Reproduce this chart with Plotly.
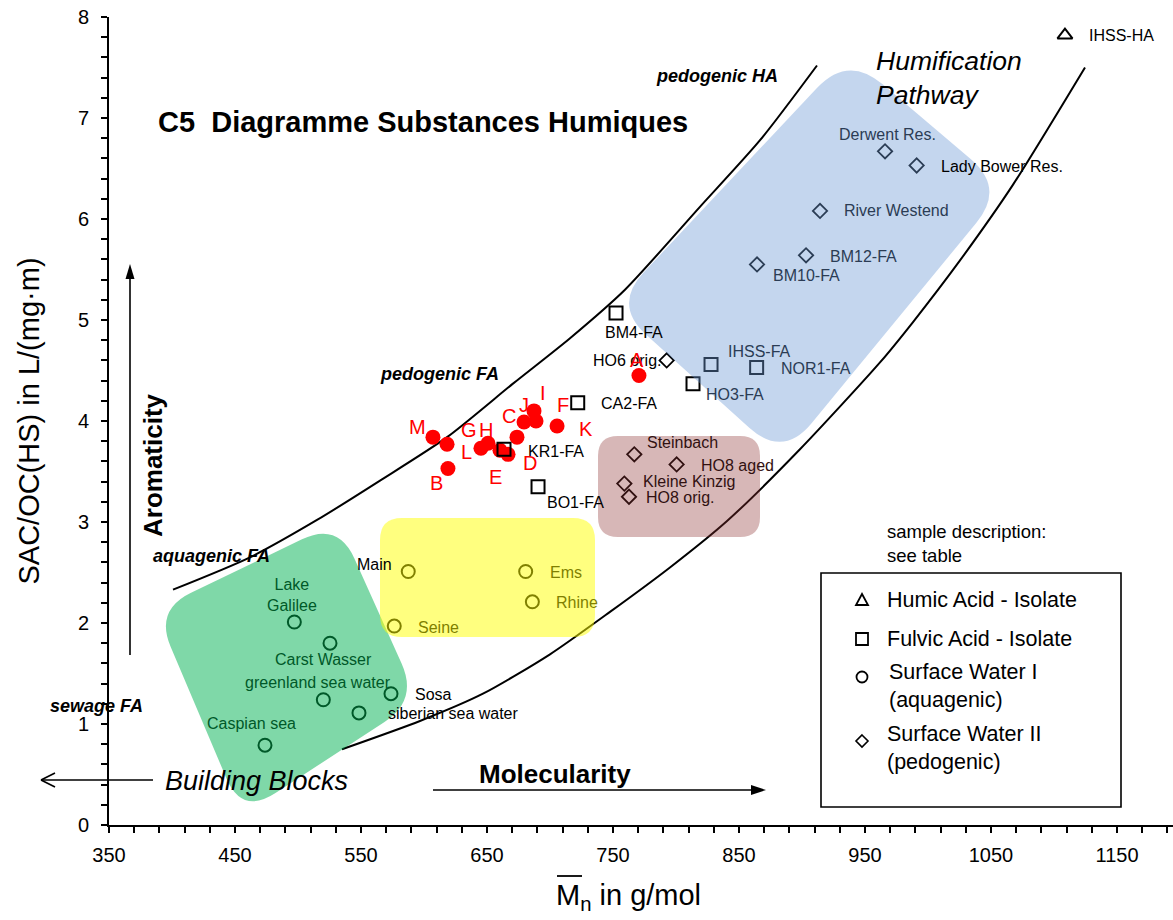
import math
import plotly.graph_objects as go

# ---------------- data ----------------
red_labels = ["A", "B", "C", "D", "E", "F", "G", "H", "I", "J", "K", "L", "M"]
red_x = [770.6, 619.0, 673.8, 666.7, 660.3, 688.9, 645.2, 650.8, 687.3, 679.4, 705.6, 618.3, 607.1]
red_y = [4.45, 3.53, 3.84, 3.67, 3.71, 4.00, 3.73, 3.78, 4.10, 3.99, 3.95, 3.77, 3.84]

ha_labels = ["IHSS-HA"]
ha_x = [1108.7]
ha_y = [7.82]

fa_labels = ["BM4-FA", "KR1-FA", "CA2-FA", "BO1-FA", "IHSS-FA", "NOR1-FA", "HO3-FA"]
fa_x = [752.4, 663.5, 722.0, 690.5, 827.8, 864.0, 813.5]
fa_y = [5.07, 3.72, 4.18, 3.35, 4.56, 4.53, 4.37]

sw1_labels = ["Lake\nGalilee", "Carst Wasser", "greenland sea water", "siberian sea water",
              "Sosa", "Caspian sea", "Main", "Ems", "Rhine", "Seine"]
sw1_x = [497.1, 525.4, 520.1, 548.4, 573.8, 473.8, 587.5, 680.7, 686.0, 576.4]
sw1_y = [2.01, 1.80, 1.24, 1.11, 1.30, 0.79, 2.51, 2.51, 2.21, 1.97]

sw2_labels = ["Derwent Res.", "Lady Bower Res.", "River Westend", "BM12-FA", "BM10-FA",
              "HO6 orig.", "Steinbach", "HO8 aged", "Kleine Kinzig", "HO8 orig."]
sw2_x = [965.9, 991.0, 914.3, 903.2, 864.3, 792.6, 766.9, 800.5, 759.0, 762.7]
sw2_y = [6.67, 6.53, 6.08, 5.64, 5.55, 4.60, 3.67, 3.57, 3.38, 3.25]

# guide curves (upper: pedogenic HA bound, lower: bound of the humification pathway)
upper_x = [400.8, 461.9, 515.1, 565.1, 618.3, 670.6, 715.9, 759.5, 819.0, 866.7, 911.9]
upper_y = [2.33, 2.65, 3.02, 3.41, 3.84, 4.37, 4.82, 5.30, 6.12, 6.78, 7.52]
lower_x = [534.9, 596.8, 646.8, 700.0, 747.6, 795.2, 840.5, 898.4, 961.9, 988.1, 1025.4, 1067.5, 1124.6]
lower_y = [0.75, 1.03, 1.30, 1.69, 2.11, 2.55, 3.01, 3.72, 4.58, 4.98, 5.59, 6.34, 7.50]

x_ticks = [350, 450, 550, 650, 750, 850, 950, 1050, 1150]
y_ticks = [0, 1, 2, 3, 4, 5, 6, 7, 8]

# ---------------- layout geometry ----------------
W, H = 1173, 920
ML, MT, MB, MR = 109, 17, 95, 0
PW, PH = W - ML - MR, H - MT - MB
FONT = "Liberation Sans, Arial, Helvetica, sans-serif"


def px(x):
    return (x - ML) / PW


def py(y):
    return (H - MB - y) / PH


def rounded_path(corners, r):
    """closed path through pixel corners with rounded corners, in paper coords"""
    n = len(corners)
    segs = []
    for i in range(n):
        cx, cy = corners[i]
        ax_, ay_ = corners[i - 1]
        bx_, by_ = corners[(i + 1) % n]
        da = math.hypot(ax_ - cx, ay_ - cy)
        db = math.hypot(bx_ - cx, by_ - cy)
        p1 = (cx + r * (ax_ - cx) / da, cy + r * (ay_ - cy) / da)
        p2 = (cx + r * (bx_ - cx) / db, cy + r * (by_ - cy) / db)
        segs.append((p1, (cx, cy), p2))
    d = "M %.5f,%.5f " % (px(segs[0][2][0]), py(segs[0][2][1]))
    for i in range(1, n + 1):
        p1, c, p2 = segs[i % n]
        d += "L %.5f,%.5f Q %.5f,%.5f %.5f,%.5f " % (px(p1[0]), py(p1[1]), px(c[0]), py(c[1]),
                                                    px(p2[0]), py(p2[1]))
    return d + "Z"


def poly_path(points):
    return "M " + " L ".join("%.5f,%.5f" % (px(a), py(b)) for a, b in points) + " Z"


fig = go.Figure()

# guide curves
for cx, cy in [(upper_x, upper_y), (lower_x, lower_y)]:
    fig.add_trace(go.Scatter(x=cx, y=cy, mode="lines",
                             line=dict(color="black", width=2, shape="spline", smoothing=0.7),
                             hoverinfo="skip", showlegend=False))

# markers
fig.add_trace(go.Scatter(x=red_x, y=red_y, mode="markers", name="red samples",
                         marker=dict(symbol="circle", size=15, color="#ff0000", line=dict(width=0)),
                         text=red_labels, showlegend=False))
fig.add_trace(go.Scatter(x=ha_x, y=ha_y, mode="markers", name="Humic Acid - Isolate",
                         marker=dict(symbol="triangle-up-open", size=13, color="black", line=dict(width=2)),
                         text=ha_labels, showlegend=False))
fig.add_trace(go.Scatter(x=fa_x, y=fa_y, mode="markers", name="Fulvic Acid - Isolate",
                         marker=dict(symbol="square-open", size=13, color="black", line=dict(width=2)),
                         text=fa_labels, showlegend=False))
fig.add_trace(go.Scatter(x=sw1_x, y=sw1_y, mode="markers", name="Surface Water I (aquagenic)",
                         marker=dict(symbol="circle-open", size=13, color="black", line=dict(width=2)),
                         text=sw1_labels, showlegend=False))
fig.add_trace(go.Scatter(x=sw2_x, y=sw2_y, mode="markers", name="Surface Water II (pedogenic)",
                         marker=dict(symbol="diamond-open", size=11, color="black", line=dict(width=1.8)),
                         text=sw2_labels, showlegend=False))

# ---------------- translucent regions drawn above the data ----------------
BLUE = (108, 152, 212, 0.40)
GREEN = (0, 178, 82, 0.50)
YELLOW = (255, 255, 0, 0.50)
BROWN = (140, 50, 50, 0.35)


def rgba(c):
    return "rgba(%d,%d,%d,%.2f)" % c


def tint(c):
    return "rgb(%d,%d,%d)" % (c[0] * c[3], c[1] * c[3], c[2] * c[3])


shapes = []
regions = [
    (BLUE, [(613, 305), (848, 55), (1005, 188), (783, 458)], 45),
    (GREEN, [(155, 610), (338, 522), (418, 700), (242, 815)], 40),
    (YELLOW, [(380, 518), (595, 518), (595, 637), (380, 637)], 22),
    (BROWN, [(598, 436), (760, 436), (760, 537), (598, 537)], 20),
]
for col, corners, r in regions:
    shapes.append(dict(type="path", xref="paper", yref="paper", path=rounded_path(corners, r),
                       fillcolor=rgba(col), line=dict(width=0), layer="above"))


def line(x0, y0, x1, y1, w=1.6):
    return dict(type="line", xref="paper", yref="paper", x0=px(x0), y0=py(y0), x1=px(x1), y1=py(y1),
                line=dict(color="black", width=w), layer="above")


# arrows
shapes.append(line(130, 655, 130, 276))
shapes.append(dict(type="path", xref="paper", yref="paper",
                   path=poly_path([(130, 264), (125.5, 279), (134.5, 279)]),
                   fillcolor="black", line=dict(width=0), layer="above"))
shapes.append(line(433, 790, 752, 790))
shapes.append(dict(type="path", xref="paper", yref="paper",
                   path=poly_path([(766, 790), (751, 785), (751, 795)]),
                   fillcolor="black", line=dict(width=0), layer="above"))
shapes.append(line(153, 780, 41, 780))
shapes.append(line(41, 780, 55, 773))
shapes.append(line(41, 780, 55, 787))

# legend box and symbols
NOFILL = "rgba(0,0,0,0)"
shapes.append(dict(type="rect", xref="paper", yref="paper", x0=px(821), y0=py(807), x1=px(1121), y1=py(573),
                   line=dict(color="black", width=1.6), fillcolor=NOFILL, layer="above"))
shapes.append(dict(type="path", xref="paper", yref="paper",
                   path=poly_path([(862, 594), (856, 605), (868, 605)]),
                   line=dict(color="black", width=1.8), fillcolor=NOFILL, layer="above"))
shapes.append(dict(type="rect", xref="paper", yref="paper", x0=px(856), y0=py(645), x1=px(868), y1=py(633),
                   line=dict(color="black", width=1.8), fillcolor=NOFILL, layer="above"))
shapes.append(dict(type="circle", xref="paper", yref="paper", x0=px(856.5), y0=py(682.5), x1=px(867.5),
                   y1=py(671.5), line=dict(color="black", width=1.8), fillcolor=NOFILL, layer="above"))
shapes.append(dict(type="path", xref="paper", yref="paper",
                   path=poly_path([(862, 735), (868, 741), (862, 747), (856, 741)]),
                   line=dict(color="black", width=1.6), fillcolor=NOFILL, layer="above"))

# ---------------- point labels ----------------
annotations = []
lbl_style = {
    # label: (dx, dy, anchor, colour)   dx/dy in pixels from the marker, dy downwards
    "IHSS-HA": (23, 0, "left", "black"),
    "BM4-FA": (-12, 20, "left", "black"),
    "KR1-FA": (23, 2, "left", "black"),
    "CA2-FA": (22, 1, "left", "black"),
    "BO1-FA": (8, 16, "left", "black"),
    "IHSS-FA": (16, -13, "left", tint(BLUE)),
    "NOR1-FA": (23, 1, "left", tint(BLUE)),
    "HO3-FA": (12, 11, "left", tint(BLUE)),
    "Lake\nGalilee": (-2, -27, "center", tint(GREEN)),
    "Carst Wasser": (-7, 16, "center", tint(GREEN)),
    "greenland sea water": (-5, -17, "center", tint(GREEN)),
    "siberian sea water": (28, 1, "left", "black"),
    "Sosa": (23, 1, "left", "black"),
    "Caspian sea": (-13, -22, "center", tint(GREEN)),
    "Main": (-15, -7, "right", "black"),
    "Ems": (23, 1, "left", tint(YELLOW)),
    "Rhine": (23, 1, "left", tint(YELLOW)),
    "Seine": (23, 1, "left", tint(YELLOW)),
    "Derwent Res.": (2, -17, "center", tint(BLUE)),
    "Lady Bower Res.": (23, 1, "left", "black"),
    "River Westend": (23, 0, "left", tint(BLUE)),
    "BM12-FA": (23, 1, "left", tint(BLUE)),
    "BM10-FA": (15, 11, "left", tint(BLUE)),
    "HO6 orig.": (-5, 0, "right", "black"),
    "Steinbach": (12, -12, "left", tint(BROWN)),
    "HO8 aged": (23, 1, "left", tint(BROWN)),
    "Kleine Kinzig": (18, -2, "left", tint(BROWN)),
    "HO8 orig.": (16, 1, "left", tint(BROWN)),
}
red_offsets = {"A": (-2, -16), "B": (-11, 15), "C": (-8, -21), "D": (22, 9), "E": (-4, 27), "F": (27, -16),
               "G": (-12, -18), "H": (-2, -13), "I": (9, -18), "J": (0, -17), "K": (29, 3), "L": (19, 8),
               "M": (-15, -10)}

for labs, xs, ys in [(ha_labels, ha_x, ha_y), (fa_labels, fa_x, fa_y), (sw1_labels, sw1_x, sw1_y),
                     (sw2_labels, sw2_x, sw2_y)]:
    for lab, xv, yv in zip(labs, xs, ys):
        dx, dy, anc, col = lbl_style[lab]
        annotations.append(dict(x=xv, y=yv, xref="x", yref="y", text=lab.replace("\n", "<br>"),
                                showarrow=False, xanchor=anc, yanchor="middle", xshift=dx, yshift=-dy,
                                borderpad=0, font=dict(family=FONT, size=16, color=col)))
for lab, xv, yv in zip(red_labels, red_x, red_y):
    dx, dy = red_offsets[lab]
    annotations.append(dict(x=xv, y=yv, xref="x", yref="y", text=lab, showarrow=False,
                            xanchor="center", yanchor="middle", xshift=dx, yshift=-dy, borderpad=0,
                            font=dict(family=FONT, size=20, color="#ff0000")))


# ---------------- free text ----------------
def text(x, y, s, size, anchor="center", rot=0, color="black"):
    annotations.append(dict(x=px(x), y=py(y), xref="paper", yref="paper", text=s, showarrow=False,
                            xanchor=anchor, yanchor="middle", textangle=rot, borderpad=0, align="left",
                            font=dict(family=FONT, size=size, color=color)))


text(157, 122, "<b>C5\u00a0\u00a0Diagramme Substances Humiques</b>", 29, "left")
text(717, 76, "<b><i>pedogenic HA</i></b>", 18)
text(439, 374, "<b><i>pedogenic FA</i></b>", 18)
text(211, 556, "<b><i>aquagenic FA</i></b>", 18)
text(96, 706, "<b><i>sewage FA</i></b>", 18)
text(875, 78, "<i>Humification<br>Pathway</i>", 26.5, "left")
text(153, 465, "<b>Aromaticity</b>", 26, rot=-90)
text(164, 781, "<i>Building Blocks</i>", 27, "left")
text(478, 774, "<b>Molecularity</b>", 26, "left")
text(886, 543, "sample description:<br>see table", 18.5, "left")
text(886, 600, "Humic Acid - Isolate", 21.5, "left")
text(886, 639, "Fulvic Acid - Isolate", 21.5, "left")
text(888, 686, "Surface Water I<br>(aquagenic)", 21.5, "left")
text(886, 748, "Surface Water II<br>(pedogenic)", 21.5, "left")
# x axis title with overlined M
text(555, 897, "M<sub>n</sub> in g/mol", 29, "left")
shapes.append(line(557, 876, 582, 876, 1.8))

fig.update_layout(
    width=W, height=H, autosize=False,
    margin=dict(l=ML, r=MR, t=MT, b=MB, pad=0),
    paper_bgcolor="white", plot_bgcolor="white",
    font=dict(family=FONT, color="black"),
    showlegend=False,
    shapes=shapes, annotations=annotations,
    xaxis=dict(range=[350, 350 + PW / 1.26], tickvals=x_ticks, ticktext=[str(v) for v in x_ticks],
               showgrid=False, zeroline=False, showline=True, linecolor="black", linewidth=2,
               ticks="outside", ticklen=6, tickwidth=2, tickcolor="black",
               tickfont=dict(size=20, family=FONT), ticklabelstandoff=5, automargin=False,
               minor=dict(tick0=350, dtick=20, ticks="outside", ticklen=6, tickwidth=1.6, tickcolor="black",
                          showgrid=False)),
    yaxis=dict(range=[0, 8], tickvals=y_ticks, ticktext=[str(v) for v in y_ticks],
               showgrid=False, zeroline=False, showline=True, linecolor="black", linewidth=2,
               ticks="outside", ticklen=6, tickwidth=2, tickcolor="black",
               tickfont=dict(size=20, family=FONT), ticklabelstandoff=8, automargin=False,
               title=dict(text="SAC/OC(HS) in L/(mg·m)", font=dict(size=29, family=FONT), standoff=30),
               minor=dict(tick0=0, dtick=0.2, ticks="outside", ticklen=6, tickwidth=1.6, tickcolor="black",
                          showgrid=False)),
)

fig.write_html("out.html", config={"displayModeBar": False},
               post_script="document.body.style.margin='0px';document.body.style.overflow='hidden';")
